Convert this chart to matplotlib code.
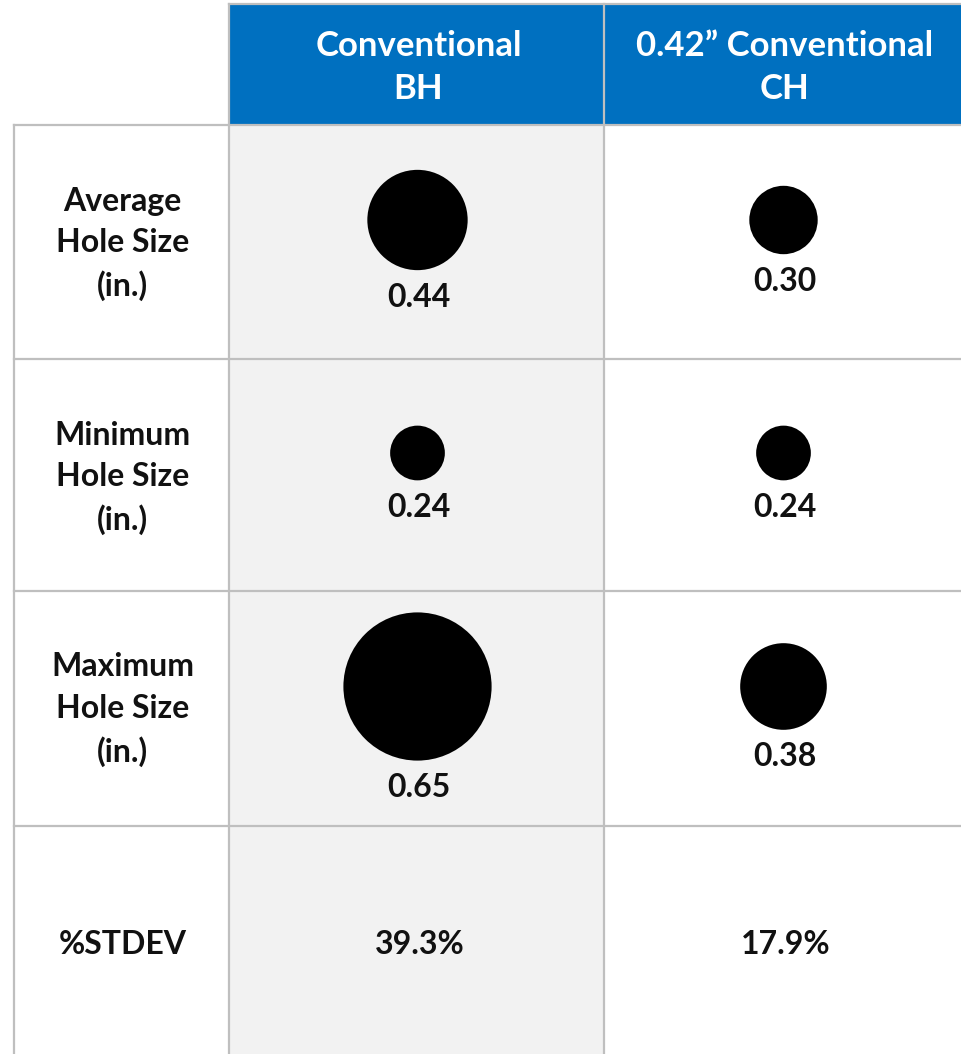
import matplotlib.pyplot as plt
from matplotlib.patches import Rectangle

# data
columns = ['Conventional\nBH', '0.42\u201d Conventional\nCH']
row_labels = ['Average\nHole Size\n(in.)', 'Minimum\nHole Size\n(in.)',
              'Maximum\nHole Size\n(in.)', '%STDEV']
bh_sizes = [0.44, 0.24, 0.65]
ch_sizes = [0.30, 0.24, 0.38]
stdev = ['39.3%', '17.9%']

# layout in pixels
W, H = 961, 1054
col_edges = [14, 229, 604, 961]
row_edges = [4, 125, 359, 591, 826, 1054]
label_shift = [2, 3, 1, 4]
px_per_in = 228  # circle diameter per inch of hole
grid_c = '#BFBFBF'
blue = '#0070C0'
font = ['Lato', 'DejaVu Sans']

fig = plt.figure(figsize=(W / 100, H / 100), dpi=100)
ax = fig.add_axes([0, 0, 1, 1])
ax.set_xlim(0, W)
ax.set_ylim(H, 0)
ax.axis('off')

# shaded BH column and blue header
ax.add_patch(Rectangle((col_edges[1], row_edges[1]), col_edges[2] - col_edges[1],
                       H - row_edges[1], fc='#F2F2F2', ec='none', zorder=0))
ax.add_patch(Rectangle((col_edges[1], row_edges[0]), W - col_edges[1],
                       row_edges[1] - row_edges[0], fc=blue, ec='none', zorder=0))

# grid lines
ax.plot([col_edges[1], W], [row_edges[0]] * 2, color=grid_c, lw=1.6, zorder=1)
for y in row_edges[1:5]:
    ax.plot([col_edges[0], W], [y, y], color=grid_c, lw=1.6, zorder=1)
ax.plot([col_edges[0]] * 2, [row_edges[1], H], color=grid_c, lw=1.6, zorder=1)
ax.plot([col_edges[1]] * 2, [row_edges[0], H], color=grid_c, lw=1.6, zorder=1)
ax.plot([col_edges[2]] * 2, [row_edges[0], H], color=grid_c, lw=1.6, zorder=1)

col_mid = [(col_edges[i] + col_edges[i + 1]) / 2 for i in range(3)]
row_mid = [(row_edges[i] + row_edges[i + 1]) / 2 for i in range(5)]

# header text
for j, c in enumerate(columns):
    ax.text(col_mid[j + 1] + 2, row_mid[0] + 3, c, ha='center', va='center',
            color='white', fontsize=25, fontweight='bold', family=font,
            linespacing=1.44)

# row labels
for i, lab in enumerate(row_labels):
    ax.text(col_mid[0] + 1, row_mid[i + 1] + label_shift[i], lab,
            ha='center', va='center', color='#111111', fontsize=23,
            fontweight='bold', family=font, linespacing=1.52)

# circles with size labels
for j, sizes in enumerate([bh_sizes, ch_sizes]):
    for i, v in enumerate(sizes):
        cy = row_mid[i + 1] - 22
        d = v * px_per_in
        ax.scatter([col_mid[j + 1] + 1], [cy], s=(d * 0.72) ** 2, color='black',
                   edgecolors='none', zorder=3)
        ax.text(col_mid[j + 1] + 2, cy + d / 2 + 27, f'{v:.2f}', ha='center',
                va='center', color='#111111', fontsize=23, fontweight='bold',
                family=font)

# %STDEV row
for j, s in enumerate(stdev):
    ax.text(col_mid[j + 1] + 3, row_mid[4] + 4, s, ha='center', va='center',
            color='#111111', fontsize=23, fontweight='bold', family=font)

fig.savefig('out.png', dpi=100)
